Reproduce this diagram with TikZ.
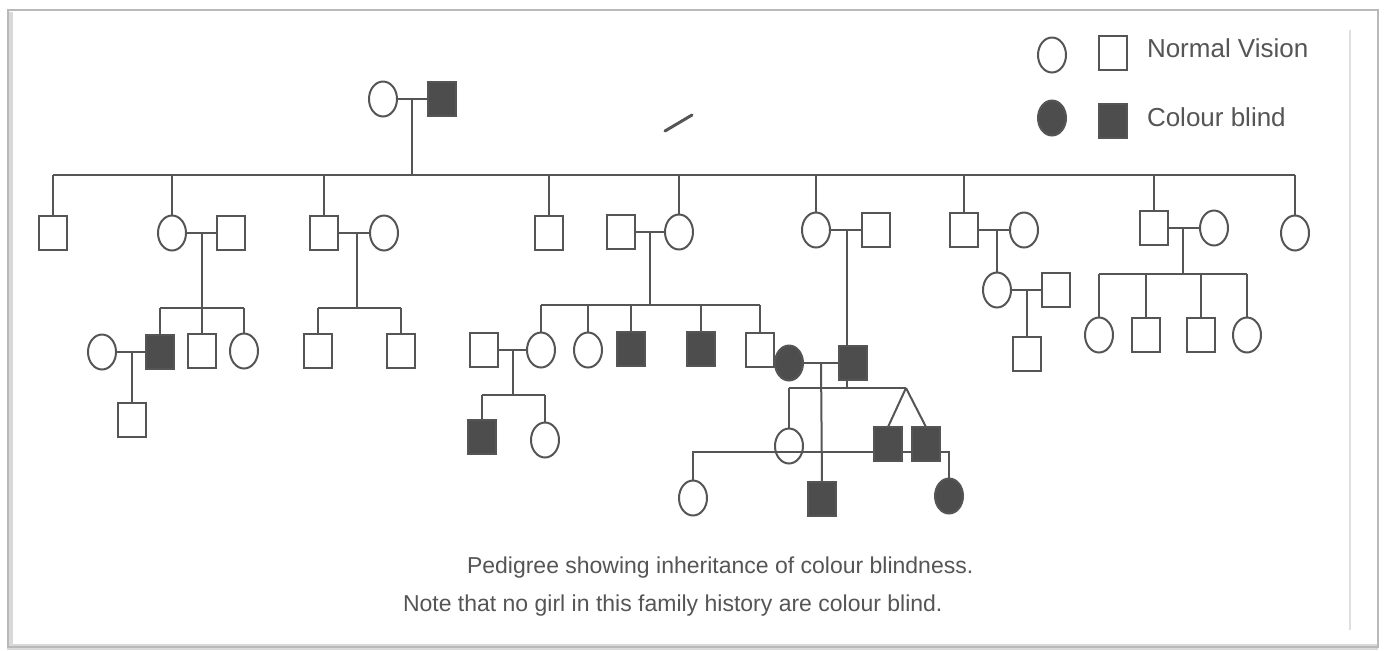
\documentclass[tikz,border=0pt]{standalone}
\usepackage{xcolor}
\usepackage{fontspec}
\setmainfont{Liberation Sans}
\usepackage{tikz}
\usetikzlibrary{shapes.geometric, positioning}

\definecolor{ink}{HTML}{555555}
\definecolor{cbfill}{HTML}{4D4D4D}

\begin{document}
\begin{tikzpicture}[
        x=0.5pt, y=-0.5pt,
        color=ink, line width=1pt,
        person/.style={draw=ink, line width=1pt, minimum width=14pt, inner sep=0pt, outer sep=0pt},
        male/.style={person, rectangle, minimum height=17pt},
        female/.style={person, ellipse, minimum height=17.5pt},
        cbmale/.style={male, fill=cbfill},
        cbfemale/.style={female, fill=cbfill},
        legendtext/.style={anchor=west, font=\fontsize{13}{15}\selectfont, inner sep=0pt},
        caption/.style={anchor=west, font=\fontsize{11.5}{14}\selectfont, inner sep=0pt}
    ]
        \useasboundingbox (0,0) rectangle (1388,650);
        \fill[white] (0,0) rectangle (1388,650);
        % Frame
        \draw[gray!30, line width=3pt] (10,12) -- (10,647) -- (1378,647);
        \draw[gray!55, line width=1pt] (8,10) rectangle (1378,647);
        \draw[gray!25, line width=1pt] (1350,30) -- (1350,630);

        % Levels of the sibship lines
        \coordinate (s2) at (0,175);
        \coordinate (s3a) at (0,308);
        \coordinate (s3b) at (0,305);
        \coordinate (s3c) at (0,274);
        \coordinate (s4a) at (0,395);
        \coordinate (s4b) at (0,388);
        \coordinate (s5) at (0,452);

        % Generation I
        \node[female] (g1w) at (383,99) {};
        \node[cbmale] (g1h) at (442,99) {};
        \coordinate (g1c) at (412,99);

        % Generation II
        \node[male] (a1) at (53,233) {};
        \node[female] (a2) at (172,233) {};
        \node[male] (a2p) at (231,233) {};
        \coordinate (a2c) at (202,233);
        \node[male] (a3) at (324,233) {};
        \node[female] (a3p) at (384,233) {};
        \coordinate (a3c) at (357,233);
        \node[male] (a4) at (549,233) {};
        \node[male] (a5p) at (621,232) {};
        \node[female] (a5) at (679,232) {};
        \coordinate (a5c) at (650,232);
        \node[female] (a6) at (816,230) {};
        \node[male] (a6p) at (876,230) {};
        \coordinate (a6c) at (847,230);
        \node[male] (a7) at (964,230) {};
        \node[female] (a7p) at (1024,230) {};
        \coordinate (a7c) at (997,230);
        \node[male] (a8) at (1154,228) {};
        \node[female] (a8p) at (1214,228) {};
        \coordinate (a8c) at (1183,228);
        \node[female] (a9) at (1295,233) {};

        % Generation III
        \node[female] (b1) at (102,352) {};
        \node[cbmale] (b2) at (160,352) {};
        \coordinate (b2c) at (132,352);
        \node[male] (b3) at (202,351) {};
        \node[female] (b4) at (244,351) {};
        \node[male] (b5) at (318,351) {};
        \node[male] (b6) at (401,351) {};
        \node[male] (d1p) at (484,350) {};
        \node[female] (d1) at (541,350) {};
        \coordinate (d1c) at (513,350);
        \node[female] (d2) at (588,350) {};
        \node[cbmale] (d3) at (631,349) {};
        \node[cbmale] (d4) at (701,349) {};
        \node[male] (d5) at (760,350) {};
        \node[cbfemale] (d6) at (789,363) {};
        \node[cbmale] (d6p) at (853,363) {};
        \coordinate (d6c) at (821,363);
        \node[female] (h1) at (997,290) {};
        \node[male] (h1p) at (1056,290) {};
        \coordinate (h1c) at (1027,290);
        \node[female] (j1) at (1099,335) {};
        \node[male] (j2) at (1146,335) {};
        \node[male] (j3) at (1201,335) {};
        \node[female] (j4) at (1247,335) {};

        % Generation IV
        \node[male] (c1) at (132,420) {};
        \node[cbmale] (e1) at (482,437) {};
        \node[female] (e2) at (545,440) {};
        \node[female] (f1) at (789,446) {};
        \node[cbmale] (f2) at (888,444) {};
        \node[cbmale] (f3) at (926,444) {};
        \coordinate (tw) at (906,388);
        \node[male] (i1) at (1027,354) {};

        % Generation V
        \node[female] (k1) at (693,498) {};
        \node[cbmale] (k2) at (822,499) {};
        \node[cbfemale] (k3) at (949,496) {};

        % Couples
        \draw (g1w) -- (g1h);
        \draw (a2) -- (a2p);
        \draw (a3) -- (a3p);
        \draw (a5p) -- (a5);
        \draw (a6) -- (a6p);
        \draw (a7) -- (a7p);
        \draw (a8) -- (a8p);
        \draw (b1) -- (b2);
        \draw (d1p) -- (d1);
        \draw (d6) -- (d6p);
        \draw (h1) -- (h1p);

        % Descent lines
        \draw (g1c) -- (g1c |- s2);
        \draw (a1.north |- s2) -- (a9.north |- s2);
        \foreach \n in {a1, a2, a3, a4, a5, a6, a7, a8, a9}
            \draw (\n.north) -- (\n.north |- s2);

        \draw (a2c) -- (b3.north);
        \draw (b2.north |- s3a) -- (b4.north |- s3a);
        \draw (b2.north) -- (b2.north |- s3a);
        \draw (b4.north) -- (b4.north |- s3a);
        \draw (b2c) -- (c1.north);

        \draw (a3c) -- (a3c |- s3a);
        \draw (b5.north |- s3a) -- (b6.north |- s3a);
        \draw (b5.north) -- (b5.north |- s3a);
        \draw (b6.north) -- (b6.north |- s3a);

        \draw (a5c) -- (a5c |- s3b);
        \draw (d1.north |- s3b) -- (d5.north |- s3b);
        \foreach \n in {d1, d2, d3, d4, d5}
            \draw (\n.north) -- (\n.north |- s3b);

        \draw (d1c) -- (d1c |- s4a);
        \draw (e1.north |- s4a) -- (e2.north |- s4a);
        \draw (e1.north) -- (e1.north |- s4a);
        \draw (e2.north) -- (e2.north |- s4a);

        \draw (a6c) -- (a6c |- d6p.north);
        \draw (d6p.south -| a6c) -- (a6c |- s4b);
        \draw (f1.north |- s4b) -- (tw);
        \draw (f1.north) -- (f1.north |- s4b);
        \draw (tw) -- (f2.north);
        \draw (tw) -- (f3.north);

        \draw (d6c) -- (k2.north);
        \draw (k1.north) -- (k1.north |- s5) -- (k3.north |- s5) -- (k3.north);
        \node[cbmale] at (f2) {};
        \node[cbmale] at (f3) {};

        \draw (a7c) -- (h1.north);
        \draw (h1c) -- (i1.north);

        \draw (a8c) -- (a8c |- s3c);
        \draw (j1.north |- s3c) -- (j4.north |- s3c);
        \foreach \n in {j1, j2, j3, j4}
            \draw (\n.north) -- (\n.north |- s3c);

        % Stray mark
        \draw[line width=1.5pt, line cap=round] (665,131) -- (692,115);

        % Legend
        \node[female] (lnf) at (1052,55) {};
        \node[male] (lnm) at (1113,53) {};
        \node[legendtext] (lnt) at (1146,48) {Normal Vision};
        \node[cbfemale] (lcf) at (1052,118) {};
        \node[cbmale] (lcm) at (1113,121) {};
        \node[legendtext] (lct) at (1146,117) {Colour blind};

        % Caption
        \node[caption] (cap1) at (466,568) {Pedigree showing inheritance of colour blindness.};
        \node[caption] (cap2) at (402,606) {Note that no girl in this family history are colour blind.};
    \end{tikzpicture}
\end{document}
